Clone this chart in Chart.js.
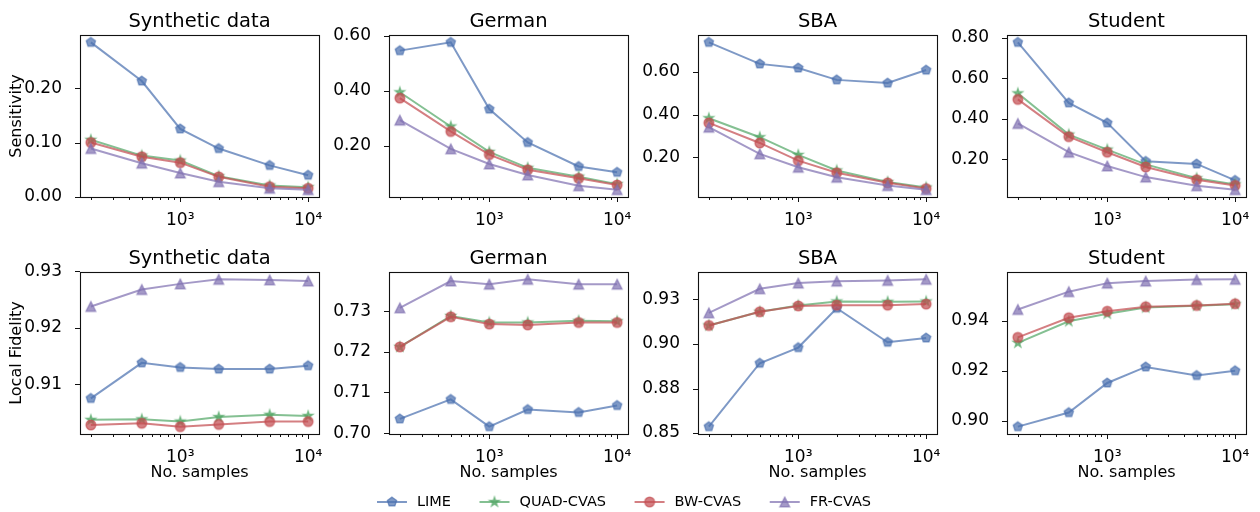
<!DOCTYPE html>
<html><head><meta charset="utf-8">
<script src="https://cdn.jsdelivr.net/npm/chart.js@4.4.1/dist/chart.umd.min.js"></script>
<style>
html,body{margin:0;padding:0;background:#fff;}
body{width:1260px;height:512px;position:relative;overflow:hidden;}
canvas{position:absolute;}
</style></head><body>
<script>
// ---------------- data ----------------
const sampleSizes = [200, 500, 1000, 2000, 5000, 10000];
const datasetNames = ['Synthetic data', 'German', 'SBA', 'Student'];
const methodNames = ['LIME', 'QUAD-CVAS', 'BW-CVAS', 'FR-CVAS'];

// rows: LIME, QUAD-CVAS, BW-CVAS, FR-CVAS
const sensitivitySynthetic = [
  [0.284, 0.213, 0.125, 0.089, 0.058, 0.040],
  [0.105, 0.076, 0.067, 0.038, 0.021, 0.018],
  [0.100, 0.074, 0.063, 0.037, 0.019, 0.016],
  [0.089, 0.062, 0.044, 0.028, 0.016, 0.0135]
];
const sensitivityGerman = [
  [0.546, 0.576, 0.334, 0.213, 0.126, 0.105],
  [0.395, 0.271, 0.179, 0.121, 0.089, 0.062],
  [0.374, 0.253, 0.169, 0.114, 0.083, 0.059],
  [0.294, 0.190, 0.135, 0.095, 0.056, 0.042]
];
const sensitivitySBA = [
  [0.739, 0.638, 0.619, 0.563, 0.548, 0.609],
  [0.383, 0.294, 0.211, 0.138, 0.084, 0.058],
  [0.361, 0.267, 0.184, 0.127, 0.080, 0.053],
  [0.341, 0.216, 0.153, 0.106, 0.067, 0.048]
];
const sensitivityStudent = [
  [0.778, 0.479, 0.380, 0.190, 0.177, 0.096],
  [0.526, 0.322, 0.248, 0.175, 0.106, 0.076],
  [0.496, 0.312, 0.235, 0.162, 0.099, 0.071],
  [0.377, 0.235, 0.167, 0.112, 0.069, 0.050]
];
const fidelitySynthetic = [
  [0.9075, 0.9138, 0.9130, 0.9127, 0.9127, 0.9133],
  [0.9037, 0.9038, 0.9034, 0.9042, 0.9046, 0.9044],
  [0.9028, 0.9031, 0.9025, 0.9029, 0.9034, 0.9034],
  [0.9238, 0.9268, 0.9278, 0.9286, 0.9285, 0.9283]
];
const fidelityGerman = [
  [0.7035, 0.7083, 0.7016, 0.7058, 0.7051, 0.7068],
  [0.7212, 0.7288, 0.7272, 0.7272, 0.7276, 0.7275],
  [0.7212, 0.7286, 0.7268, 0.7266, 0.7272, 0.7272],
  [0.7308, 0.7374, 0.7366, 0.7378, 0.7366, 0.7366]
];
const fidelitySBA = [
  [0.8536, 0.8892, 0.8980, 0.9201, 0.9010, 0.9034],
  [0.9104, 0.9181, 0.9216, 0.9239, 0.9237, 0.9239],
  [0.9104, 0.9181, 0.9214, 0.9218, 0.9218, 0.9224],
  [0.9175, 0.9310, 0.9342, 0.9353, 0.9357, 0.9363]
];
const fidelityStudent = [
  [0.8977, 0.9033, 0.9151, 0.9215, 0.9181, 0.9200],
  [0.9311, 0.9397, 0.9427, 0.9452, 0.9459, 0.9465],
  [0.9333, 0.9411, 0.9437, 0.9455, 0.9460, 0.9467],
  [0.9444, 0.9515, 0.9549, 0.9557, 0.9563, 0.9564]
];

const yTicksSensitivity = [[0, 0.1, 0.2], [0.2, 0.4, 0.6], [0.2, 0.4, 0.6], [0.2, 0.4, 0.6, 0.8]];
const yTicksFidelity = [[0.91, 0.92, 0.93], [0.70, 0.71, 0.72, 0.73], [0.85, 0.875, 0.90, 0.925], [0.90, 0.92, 0.94]];
const xTickValues = [200, 300, 400, 500, 600, 700, 800, 900, 1000, 2000, 3000, 4000, 5000, 6000, 7000, 8000, 9000, 10000];
const xMajorTicks = [1000, 10000];
const xMajorLabels = ['10³', '10⁴'];
const rowLabels = ['Sensitivity', 'Local Fidelity'];
const xAxisLabel = 'No. samples';

// ---------------- styling ----------------
const FONT = 'DejaVu Sans';
Chart.defaults.font.family = FONT;
Chart.defaults.color = '#000';
Chart.defaults.animation = false;

const methodRGB = ['76,114,176', '85,168,104', '196,78,82', '129,114,178'];
const methodShapes = ['pentagon', 'star', 'circle', 'triangle'];
const ALPHA = 0.72;
const TICK_SIZE = 17;

const plotLefts = [80, 389, 698, 1007];
const plotTops = [35, 272];
const plotW = 239, plotH = 162;

function markerCanvas(shape, rgb) {
  const s = 16, c = document.createElement('canvas');
  c.width = s; c.height = s;
  const g = c.getContext('2d');
  const col = `rgba(${rgb},${ALPHA})`;
  g.fillStyle = col; g.strokeStyle = col; g.lineWidth = 1.4; g.lineJoin = 'miter';
  const cx = s / 2, cy = s / 2, r = 4.8;
  g.beginPath();
  if (shape === 'circle') {
    g.arc(cx, cy, r, 0, 2 * Math.PI);
  } else if (shape === 'pentagon') {
    for (let i = 0; i < 5; i++) {
      const a = -Math.PI / 2 + i * 2 * Math.PI / 5;
      const x = cx + r * Math.cos(a), y = cy + r * Math.sin(a);
      if (i) g.lineTo(x, y); else g.moveTo(x, y);
    }
    g.closePath();
  } else if (shape === 'star') {
    for (let i = 0; i < 10; i++) {
      const a = -Math.PI / 2 + i * Math.PI / 5;
      const rr = i % 2 ? r * 0.381966 : r;
      const x = cx + rr * Math.cos(a), y = cy + rr * Math.sin(a);
      if (i) g.lineTo(x, y); else g.moveTo(x, y);
    }
    g.closePath();
  } else if (shape === 'triangle') {
    g.moveTo(cx, cy - r); g.lineTo(cx - r, cy + r); g.lineTo(cx + r, cy + r); g.closePath();
  }
  g.fill(); g.stroke();
  return c;
}
const markerImgs = methodShapes.map((s, i) => markerCanvas(s, methodRGB[i]));

function padRange(vals) {
  const mn = Math.min(...vals), mx = Math.max(...vals);
  const p = (mx - mn) * 0.05;
  return [mn - p, mx + p];
}
const lx0 = Math.log10(sampleSizes[0]), lx1 = Math.log10(sampleSizes[sampleSizes.length - 1]);
const lpad = (lx1 - lx0) * 0.05;
const xMin = Math.pow(10, lx0 - lpad), xMax = Math.pow(10, lx1 + lpad);

const framePlugin = {
  id: 'mplFrame',
  afterDraw(chart) {
    const { ctx, chartArea: a, scales } = chart;
    const x = scales.x, y = scales.y;
    ctx.save();
    ctx.strokeStyle = '#111';
    ctx.lineWidth = 1;
    ctx.beginPath();
    xTickValues.forEach(v => {
      if (v < x.min || v > x.max) return;
      const px = Math.round(x.getPixelForValue(v)) + 0.5;
      const L = xMajorTicks.includes(v) ? 5 : 3;
      ctx.moveTo(px, a.bottom); ctx.lineTo(px, a.bottom + L);
    });
    y.ticks.forEach(t => {
      const py = Math.round(y.getPixelForValue(t.value)) + 0.5;
      ctx.moveTo(a.left - 5, py); ctx.lineTo(a.left, py);
    });
    ctx.stroke();
    ctx.lineWidth = 1.1;
    ctx.strokeRect(Math.round(a.left) + 0.5, Math.round(a.top) + 0.5, Math.round(a.width), Math.round(a.height));
    ctx.restore();
  }
};

const sensitivityAll = [sensitivitySynthetic, sensitivityGerman, sensitivitySBA, sensitivityStudent];
const fidelityAll = [fidelitySynthetic, fidelityGerman, fidelitySBA, fidelityStudent];

function zeroPad(s) { s.paddingLeft = 0; s.paddingRight = 0; s.paddingTop = 0; s.paddingBottom = 0; }

function makeChart(row, col) {
  const series = row === 0 ? sensitivityAll[col] : fidelityAll[col];
  const yTicks = row === 0 ? yTicksSensitivity[col] : yTicksFidelity[col];
  const YW = col === 0 ? 80 : 70;
  const RW = 16, TH = 35;
  const XH = row === 0 ? 37 : 50;
  const w = YW + plotW + RW, h = TH + plotH + XH;
  const canvas = document.createElement('canvas');
  canvas.width = w; canvas.height = h;
  canvas.style.left = (plotLefts[col] - YW) + 'px';
  canvas.style.top = (plotTops[row] - TH) + 'px';
  canvas.style.width = w + 'px'; canvas.style.height = h + 'px';
  document.body.appendChild(canvas);
  const [yMin, yMax] = padRange(series.flat());

  return new Chart(canvas, {
    type: 'line',
    data: {
      datasets: series.map((vals, i) => ({
        label: methodNames[i],
        data: vals.map((v, j) => ({ x: sampleSizes[j], y: v })),
        borderColor: `rgba(${methodRGB[i]},${ALPHA})`,
        backgroundColor: `rgba(${methodRGB[i]},${ALPHA})`,
        borderWidth: 2,
        pointStyle: markerImgs[i],
        pointRadius: 5,
        tension: 0,
        order: 3 - i
      }))
    },
    options: {
      responsive: false,
      animation: false,
      events: [],
      layout: { padding: { left: 0, right: RW, top: 0, bottom: 0 }, autoPadding: false },
      plugins: {
        legend: { display: false },
        tooltip: { enabled: false },
        title: {
          display: true, text: datasetNames[col], color: '#000', fullSize: false,
          font: { size: 19.5, family: FONT, weight: 'normal', lineHeight: 1.2 },
          padding: { top: 10, bottom: 1.6 }
        }
      },
      scales: {
        x: {
          type: 'logarithmic', min: xMin, max: xMax, position: 'bottom',
          grid: { display: false }, border: { display: false },
          afterBuildTicks: s => {
            s.ticks = xTickValues.filter(v => v >= s.min && v <= s.max).map(v => ({ value: v }));
          },
          ticks: {
            autoSkip: false, maxRotation: 0, minRotation: 0, padding: 5, color: '#000',
            font: { size: TICK_SIZE, family: FONT },
            callback: v => { const k = xMajorTicks.indexOf(v); return k >= 0 ? xMajorLabels[k] : ''; }
          },
          title: row === 1 ? { display: true, text: xAxisLabel, color: '#000', font: { size: 16, family: FONT }, padding: { top: 0, bottom: 2 } } : { display: false },
          afterFit: s => { s.height = XH; zeroPad(s); }
        },
        y: {
          type: 'linear', min: yMin, max: yMax, position: 'left',
          grid: { display: false }, border: { display: false },
          afterBuildTicks: s => { s.ticks = yTicks.map(v => ({ value: v })); },
          ticks: {
            autoSkip: false, padding: 10, color: '#000',
            font: { size: TICK_SIZE, family: FONT },
            callback: v => Number(v).toFixed(2)
          },
          title: col === 0 ? { display: true, text: rowLabels[row], color: '#000', font: { size: 16, family: FONT }, padding: { top: 7, bottom: 0 } } : { display: false },
          afterFit: s => { s.width = YW; zeroPad(s); }
        }
      }
    },
    plugins: [framePlugin]
  });
}

for (let r = 0; r < 2; r++) for (let c = 0; c < 4; c++) makeChart(r, c);

// ---------------- legend ----------------
const legendPlugin = {
  id: 'mplLegend',
  afterDraw(chart) {
    const ctx = chart.ctx;
    const cy = 18, lineLen = 30, gap = 10, spacing = 28.5;
    ctx.save();
    ctx.font = `14.5px "${FONT}"`;
    ctx.textBaseline = 'middle';
    ctx.textAlign = 'left';
    const ds = chart.data.datasets;
    const widths = ds.map(d => ctx.measureText(d.label).width);
    let total = 0;
    widths.forEach((tw, i) => { total += lineLen + gap + tw + (i < ds.length - 1 ? spacing : 0); });
    let x = 624 - total / 2;
    ds.forEach((d, i) => {
      ctx.strokeStyle = d.borderColor; ctx.lineWidth = 2;
      ctx.beginPath(); ctx.moveTo(x, cy); ctx.lineTo(x + lineLen, cy); ctx.stroke();
      const img = d.pointStyle;
      ctx.drawImage(img, x + lineLen / 2 - img.width / 2, cy - img.height / 2);
      ctx.fillStyle = '#000';
      ctx.fillText(d.label, x + lineLen + gap, cy + 0.5);
      x += lineLen + gap + widths[i] + spacing;
    });
    ctx.restore();
  }
};
(function () {
  const c = document.createElement('canvas');
  c.width = 1260; c.height = 28;
  c.style.left = '0px'; c.style.top = '484px';
  c.style.width = '1260px'; c.style.height = '28px';
  document.body.appendChild(c);
  new Chart(c, {
    type: 'line',
    data: {
      datasets: methodNames.map((m, i) => ({
        label: m, data: [],
        borderColor: `rgba(${methodRGB[i]},${ALPHA})`,
        pointStyle: markerImgs[i]
      }))
    },
    options: {
      responsive: false, animation: false, events: [],
      plugins: { legend: { display: false }, tooltip: { enabled: false } },
      scales: { x: { display: false }, y: { display: false } }
    },
    plugins: [legendPlugin]
  });
})();
</script>
</body></html>
